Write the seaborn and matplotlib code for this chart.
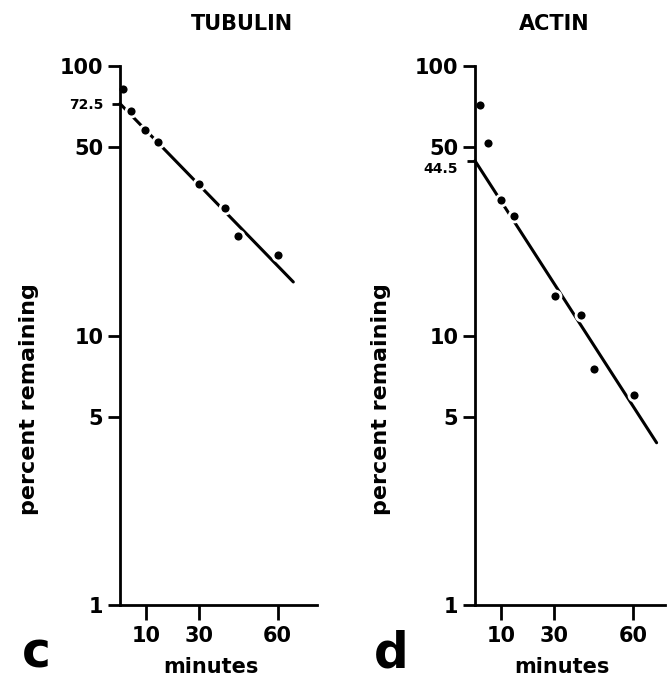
import matplotlib
matplotlib.use("Agg")
import matplotlib.pyplot as plt
import matplotlib.transforms as mtransforms
import seaborn as sns
import pandas as pd

# ---- data ----
tub_minutes = [1, 4, 9.5, 14.5, 30, 40, 45, 60]
tub_percent = [82, 68, 58, 52.4, 36.5, 29.6, 23.4, 19.9]
tub_fit_minutes = [0, 66]
tub_fit_percent = [72.5, 15.8]

act_minutes = [2, 5, 10, 15, 30.4, 40.4, 45.3, 60.4]
act_percent = [71.7, 51.7, 31.8, 27.8, 14.0, 11.9, 7.5, 6.0]
act_fit_minutes = [0, 69]
act_fit_percent = [44.5, 4.0]

x_ticks = [10, 30, 60]
y_ticks = [1, 5, 10, 50, 100]
titles = ["TUBULIN", "ACTIN"]
panel_letters = ["c", "d"]
intercept_labels = ["72.5", "44.5"]

sns.set_theme(style="ticks")
plt.rcParams["font.family"] = ["DejaVu Sans"]
plt.rcParams["font.weight"] = "bold"
plt.rcParams["text.color"] = "black"
plt.rcParams["axes.labelcolor"] = "black"
plt.rcParams["xtick.color"] = "black"
plt.rcParams["ytick.color"] = "black"

W, H = 672, 682
fig = plt.figure(figsize=(W / 100, H / 100), dpi=100)

panels = [
    dict(left=120, xmax=75, ppm=2.626, mx=tub_minutes, my=tub_percent,
         fx=tub_fit_minutes, fy=tub_fit_percent, title_x=0.62, ylab_x=29,
         letter_x=22, label_dy=0),
    dict(left=475, xmax=72, ppm=2.632, mx=act_minutes, my=act_percent,
         fx=act_fit_minutes, fy=act_fit_percent, title_x=0.42, ylab_x=381,
         letter_x=374, label_dy=-7),
]

top_px, bot_px = 66, 605
for i, p in enumerate(panels):
    width_px = p["xmax"] * p["ppm"]
    ax = fig.add_axes([p["left"] / W, 1 - bot_px / H, width_px / W, (bot_px - top_px) / H])
    ax.set_yscale("log")
    ax.set_xlim(0, p["xmax"])
    ax.set_ylim(1, 100)

    fit = pd.DataFrame({"minutes": p["fx"], "percent": p["fy"]})
    pts = pd.DataFrame({"minutes": p["mx"], "percent": p["my"]})
    sns.lineplot(data=fit, x="minutes", y="percent", ax=ax, color="black",
                 linewidth=2.2, clip_on=False, zorder=2)
    sns.scatterplot(data=pts, x="minutes", y="percent", ax=ax, color="black",
                    s=62, edgecolor="white", linewidth=2.0, clip_on=False, zorder=3)

    sns.despine(ax=ax)
    for side in ("left", "bottom"):
        ax.spines[side].set_linewidth(2.0)
        ax.spines[side].set_color("black")
        ax.spines[side].set_zorder(5)

    ax.set_xticks(x_ticks)
    ax.set_xticklabels([str(t) for t in x_ticks])
    yt = y_ticks + [p["fy"][0]]
    ax.set_yticks(yt)
    ax.set_yticklabels([str(t) for t in y_ticks] + [intercept_labels[i]])
    ax.yaxis.set_minor_locator(matplotlib.ticker.NullLocator())
    ax.tick_params(axis="x", direction="out", length=11, width=2.0, pad=4,
                   labelsize=15, colors="black", labelcolor="black")
    ax.tick_params(axis="y", direction="out", length=9, width=2.0, pad=3,
                   labelsize=15, colors="black", labelcolor="black")
    for lab in ax.get_xticklabels() + ax.get_yticklabels():
        lab.set_fontweight("bold")
        lab.set_color("black")
    ticks = ax.yaxis.get_major_ticks()
    t_int = ticks[-1]
    t_int.tick1line.set_markersize(6)
    t_int.label1.set_fontsize(10)
    if p["label_dy"]:
        off = mtransforms.ScaledTranslation(0, p["label_dy"] / 100, fig.dpi_scale_trans)
        t_int.label1.set_transform(t_int.label1.get_transform() + off)

    ax.set_xlabel("")
    ax.set_ylabel("")
    ax.set_title(titles[i], x=p["title_x"], y=1.0, pad=26, fontsize=15,
                 fontweight="bold", color="black")

    fig.text(p["left"] / W + width_px / W * 0.46, 1 - 667 / H, "minutes",
             ha="center", va="center", fontsize=15, fontweight="bold", color="black")
    fig.text(p["ylab_x"] / W, 1 - 399 / H, "percent remaining", rotation=90,
             ha="center", va="center", fontsize=16, fontweight="bold", color="black")
    fig.text(p["letter_x"] / W, 1 - 668 / H, panel_letters[i],
             ha="left", va="baseline", fontsize=35, fontweight="bold", color="black")

fig.savefig("out.png", dpi=100, facecolor="white")
